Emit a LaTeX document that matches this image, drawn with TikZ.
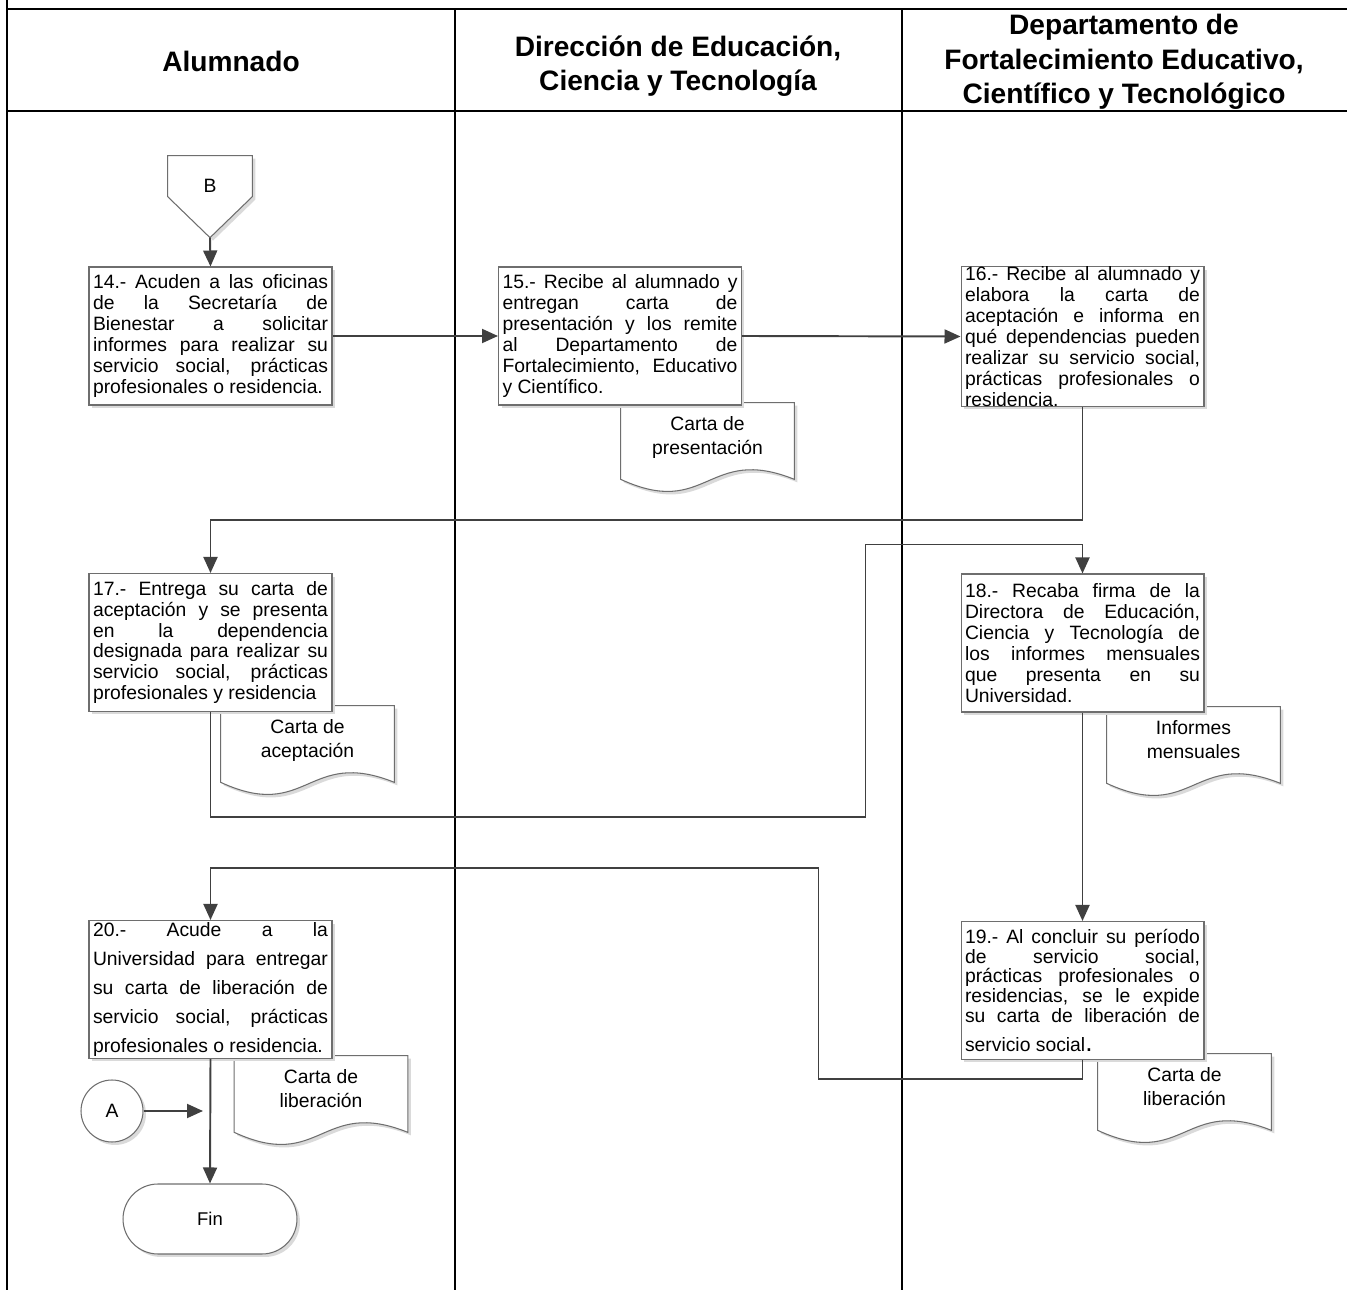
\documentclass[tikz,border=0pt]{standalone}
\usepackage{fontspec}
\setmainfont{Liberation Sans}
\usepackage{xcolor}
\usepackage{tikz}
\usetikzlibrary{arrows.meta,calc,positioning,shadows}
\pgfdeclarelayer{background}
\pgfsetlayers{background,main}
\definecolor{edgegray}{HTML}{6E6E6E}
\definecolor{flowgray}{HTML}{404040}
\definecolor{shadowgray}{HTML}{DADADA}
\tolerance=10000
\hbadness=10000
\hyphenpenalty=10000

\begin{document}
\begin{tikzpicture}[
    x=0.02cm, y=-0.02cm,
    every node/.style={font=\fontsize{11}{11.9}\selectfont},
    lane/.style={line width=1.2pt},
    laneedge/.style={line width=1.6pt},
    lanetitle/.style={font=\fontsize{16}{19.5}\selectfont\bfseries, align=center},
    boxshadow/.style={drop shadow={shadow xshift=0.06cm, shadow yshift=-0.06cm, opacity=1, fill=shadowgray}},
    activity/.style={
        draw=edgegray,
        line width=0.6pt,
        fill=white,
        boxshadow,
        text width=4.7cm,
        align=justify,
        inner xsep=0.08cm,
        inner ysep=0pt,
        minimum height=2.76cm
    },
    paperdoc/.style={
        minimum width=3.46cm,
        minimum height=1.52cm,
        inner sep=0pt,
        text depth=6.5pt,
        align=center,
        font=\fontsize{11}{13.6}\selectfont
    },
    docline/.style={draw=edgegray, line width=0.6pt, fill=white, boxshadow},
    offpage/.style={minimum width=1.68cm, minimum height=1.2cm, inner sep=0pt},
    onpage/.style={
        circle,
        draw=edgegray,
        line width=0.6pt,
        fill=white,
        boxshadow,
        minimum size=1.24cm,
        inner sep=0pt
    },
    terminal/.style={
        draw=edgegray,
        line width=0.6pt,
        fill=white,
        boxshadow,
        rounded corners=0.7cm,
        minimum width=3.48cm,
        minimum height=1.4cm,
        font=\fontsize{10.5}{12}\selectfont
    },
    flow/.style={-{Triangle[length=0.32cm,width=0.28cm]}, draw=flowgray, line width=1.1pt}
]
\useasboundingbox (0,0) rectangle (1347,1290);

% Lane headers
\node[lanetitle] (laneAlum) at (231,61) {Alumnado};
\node[lanetitle] (laneDir) at (678,66) {Dirección de Educación,\\Ciencia y Tecnología};
\node[lanetitle] (laneDep) at (1124,62) {Departamento de\\Fortalecimiento Educativo,\\Científico y Tecnológico};

% Connectors
\node[offpage] (conB) at (210,186) {B};
\coordinate (conBtip) at ($(conB.north)+(0,82)$);
\node[onpage] (conA) at (112,1111) {A};
\coordinate (aEnd) at (203,1111);

% Documents
\node[paperdoc] (docPres) at (707.5,441) {Carta de\\presentación};
\node[paperdoc] (docAcep) at (307.5,744) {Carta de\\aceptación};
\node[paperdoc] (docInf) at (1193.5,745) {Informes\\mensuales};
\node[paperdoc] (docLibL) at (321,1094) {Carta de\\liberación};
\node[paperdoc] (docLibR) at (1184.5,1092) {Carta de\\liberación};

% Activities
\node[activity] (act14) at (210.5,336)
{14.- Acuden a las oficinas\linebreak de la Secretaría de\linebreak Bienestar a solicitar\linebreak informes para realizar su\linebreak servicio social, prácticas\linebreak profesionales o residencia.};

\node[activity] (act15) at (620,336)
{15.- Recibe al alumnado y\linebreak entregan carta de\linebreak presentación y los remite\linebreak al Departamento de\linebreak Fortalecimiento, Educativo\linebreak y Científico.};

\node[activity] (act16) at (1082.5,336.5)
{16.- Recibe al alumnado y\linebreak elabora la carta de\linebreak aceptación e informa en\linebreak qué dependencias pueden\linebreak realizar su servicio social,\linebreak prácticas profesionales o\linebreak residencia.};

\node[activity] (act17) at (210.5,642.5)
{17.- Entrega su carta de\linebreak aceptación y se presenta\linebreak en la dependencia\linebreak designada para realizar su\linebreak servicio social, prácticas\linebreak profesionales y residencia};

\node[activity] (act18) at (1082.5,643)
{18.- Recaba firma de la\linebreak Directora de Educación,\linebreak Ciencia y Tecnología de\linebreak los informes mensuales\linebreak que presenta en su\linebreak Universidad.};

\node[activity, font=\fontsize{11}{11.2}\selectfont] (act19) at (1082.5,990.5)
{19.- Al concluir su período\linebreak de servicio social,\linebreak prácticas profesionales o\linebreak residencias, se le expide\linebreak su carta de liberación de\linebreak \rule{0pt}{15.5pt}servicio social{\fontsize{15}{15}\selectfont.}};

\node[activity, font=\fontsize{11}{16.6}\selectfont] (act20) at (210.5,989.5)
{20.- Acude a la\linebreak Universidad para entregar\linebreak su carta de liberación de\linebreak servicio social, prácticas\linebreak profesionales o residencia.};

\node[terminal] (fin) at (210,1219) {Fin};

% Lanes, off-page symbol and document sheets behind everything
\begin{pgfonlayer}{background}
\draw[laneedge] (7,0) -- (7,1290);
\draw[laneedge] (7,9) -- (1347,9);
\draw[laneedge] (7,111) -- (1347,111);
\draw[lane] (455,9) -- (455,1290);
\draw[lane] (902,9) -- (902,1290);

\draw[docline] (conB.north west) -- (conB.north east) -- ++(0,41) -- (conBtip)
    -- ($(conB.north west)+(0,41)$) -- cycle;

\foreach \doc in {docPres,docAcep,docInf,docLibL,docLibR}
    \draw[docline] (\doc.north west) -- (\doc.north east) -- (\doc.south east)
        .. controls ($(\doc.south)+(0,-35)$) and ($(\doc.south)+(0,40)$) .. (\doc.south west)
        -- cycle;
\end{pgfonlayer}

% Flow
\draw[flow] (conBtip) -- (act14.north);
\draw[flow] (act14.east) -- (act15.west);
\draw[flow] (act15.east) -- (act16.west);
\draw[flow] (act16.south) -- ++(0,113) -| (act17.north);
\draw[flow] (act17.south) -- ++(0,105) -- ++(655,0) |- ($(act18.north)+(0,-29)$) -- (act18.north);
\draw[flow] (act18.south) -- (act19.north);
\draw[flow] (act19.south) -- ++(0,19) -- ++(-264,0) |- ($(act20.north)+(0,-52)$) -- (act20.north);
\draw[flow] (conA.east) -- (aEnd);
\draw[flow] (act20.south) -- (fin.north);

\end{tikzpicture}
\end{document}
